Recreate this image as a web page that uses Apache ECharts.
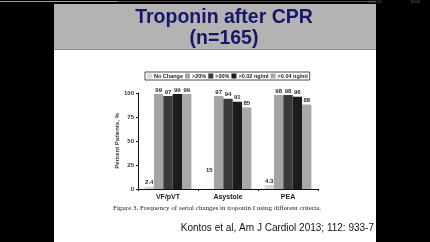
<!DOCTYPE html>
<html>
<head>
<meta charset="utf-8">
<script src="https://cdn.jsdelivr.net/npm/echarts@6/dist/echarts.min.js"></script>
<style>
  html, body { margin: 0; padding: 0; background: #000; }
  #chart-container { width: 430px; height: 242px; }
</style>
</head>
<body>
<div id="chart-container"></div>
<script>
// chart values
const categories = ['VF/pVT', 'Asystole', 'PEA'];
const seriesNames = ['No Change', '>20%', '>30%', '>0.02 ng/ml', '>0.04 ng/ml'];
const noChange = [2.4, 15, 4.3];
const over20 = [99, 97, 98];
const over30 = [97, 94, 98];
const over002 = [99, 91, 96];
const over004 = [99, 85, 88];
const yTicks = [0, 25, 50, 75, 100];

const colors = ['#d6d6d6', '#a4a4a4', '#3a3a3a', '#1c1c1c', '#a8a8a8'];
const allValues = [noChange, over20, over30, over002, over004];

const myChart = echarts.init(document.getElementById('chart-container'));

const series = allValues.map((vals, i) => ({
	name: seriesNames[i],
	type: 'bar',
	barGap: 0,
	barCategoryGap: '22%',
	// asystole "no change" bar is washed out on the slide
	data: vals.map((v, j) => (i === 0 && j === 1) ? { value: v, itemStyle: { color: '#fbfbfb' } } : v),
	itemStyle: { color: colors[i] },
	label: {
		show: true,
		position: 'top',
		distance: 1,
		fontSize: 6,
		fontWeight: 'bold',
		fontFamily: 'Liberation Sans',
		color: '#2a2a2a'
	}
}));

const titleFont = { fill: '#16166b', fontSize: 19.5, fontWeight: 'bold', fontFamily: 'Liberation Sans', align: 'center' };

const option = {
	backgroundColor: '#000',
	animation: false,
	graphic: [
		// slide background
		{ type: 'rect', left: 54, top: 4, shape: { width: 322, height: 46 }, style: { fill: '#b3b3b3' }, z: -10 },
		{ type: 'rect', left: 54, top: 49, shape: { width: 322, height: 1 }, style: { fill: '#8a8a8a' }, z: -9 },
		{ type: 'rect', left: 54, top: 50, shape: { width: 322, height: 192 }, style: { fill: '#fff' }, z: -10 },
		// progress bar at the top
		{ type: 'rect', left: 0, top: 1, shape: { width: 376, height: 1 }, style: { fill: '#555' }, z: -9 },
		{ type: 'rect', left: 0, top: 1, shape: { width: 118, height: 1 }, style: { fill: '#a8a848' }, z: -8 },
		{ type: 'text', left: 410, top: 0, style: { text: '12:02', fontSize: 4, fill: '#777', fontFamily: 'Liberation Sans' } },
		{ type: 'text', left: 368, top: 0, style: { text: '0:00:01', fontSize: 4, fill: '#666', fontFamily: 'Liberation Sans' } },
		// slide title
		{ type: 'text', x: 224, y: 8, style: Object.assign({ text: 'Troponin after CPR' }, titleFont) },
		{ type: 'text', x: 224, y: 29, style: Object.assign({ text: '(n=165)' }, titleFont) },
		// caption and citation
		{
			type: 'text', left: 113, top: 205,
			style: {
				text: 'Figure 3. Frequency of serial changes in troponin I using different criteria.',
				fontSize: 7, fontFamily: 'Liberation Serif', fill: '#222'
			}
		},
		{
			type: 'text', right: 56, top: 223,
			style: {
				text: 'Kontos et al, Am J Cardiol 2013; 112: 933-7',
				fontSize: 10, fontFamily: 'Liberation Sans', fill: '#111'
			}
		}
	],
	legend: {
		data: seriesNames,
		left: 145,
		top: 72,
		padding: [1, 2, 1, 2],
		borderColor: '#222',
		borderWidth: 0.8,
		itemWidth: 5,
		itemHeight: 5,
		itemGap: 2,
		icon: 'rect',
		textStyle: { fontSize: 5.5, fontWeight: 'bold', fontFamily: 'Liberation Sans', color: '#222', padding: [0, 0, 0, -3] }
	},
	grid: { left: 138, right: 112, top: 93, bottom: 53, containLabel: false },
	xAxis: {
		type: 'category',
		data: categories,
		axisLine: { lineStyle: { color: '#111', width: 1 } },
		axisTick: { show: true, length: 2, lineStyle: { color: '#111' } },
		axisLabel: { fontSize: 7, fontWeight: 'bold', fontFamily: 'Liberation Sans', color: '#222', margin: 5 }
	},
	yAxis: {
		type: 'value',
		min: yTicks[0],
		max: yTicks[yTicks.length - 1],
		interval: 25,
		name: 'Percent Patients, %',
		nameLocation: 'middle',
		nameGap: 17,
		nameTextStyle: { fontSize: 6, fontWeight: 'bold', fontFamily: 'Liberation Sans', color: '#333' },
		splitLine: { show: false },
		axisLine: { show: true, lineStyle: { color: '#111', width: 1 } },
		axisTick: { show: true, length: 2, lineStyle: { color: '#111' } },
		axisLabel: { fontSize: 6, fontWeight: 'bold', fontFamily: 'Liberation Sans', color: '#333', margin: 4 }
	},
	series: series
};

myChart.setOption(option);
</script>
</body>
</html>
